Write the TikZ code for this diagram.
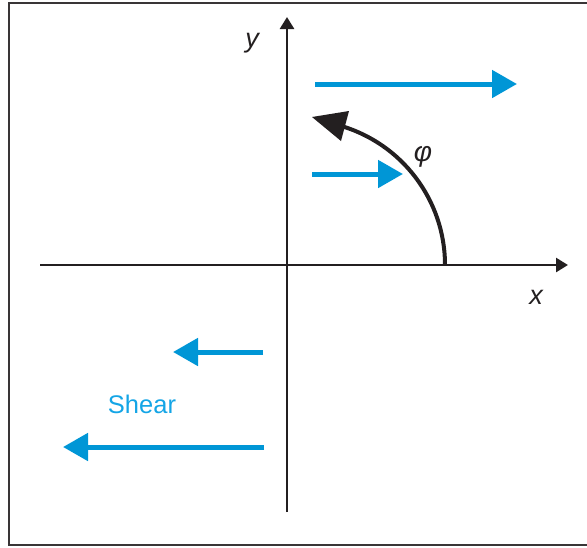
\documentclass[tikz,border=0pt]{standalone}
\usepackage{fontspec}
\setmainfont{Liberation Sans}
\usetikzlibrary{arrows.meta}
\definecolor{shearblue}{RGB}{0,150,214}
\definecolor{sheartext}{RGB}{20,165,230}
\definecolor{axisblack}{RGB}{35,31,32}
\begin{document}
\begin{tikzpicture}[x=1pt,y=-1pt,
  axisline/.style={draw=axisblack,line width=2.6pt,-{Triangle[length=12pt,width=14pt]}},
  bluearrow/.style={draw=shearblue,line width=5pt,-{Triangle[length=25pt,width=27pt]}},
  framel/.style={draw=axisblack!90,line width=1.8pt},
  lbl/.style={inner sep=0pt,font=\fontsize{27}{30}\selectfont\itshape,text=axisblack}]
\useasboundingbox (0,0) rectangle (587,547);
% frame
\draw[framel] (587,3) -- (9,3) -- (9,545) -- (587,545);
% axes
\coordinate (xs) at (40,265);
\coordinate (xe) at (568,265);
\coordinate (ys) at (287,512);
\coordinate (ye) at (287,17);
\draw[axisline] (xs) -- (xe);
\draw[axisline] (ys) -- (ye);
\node[lbl] (xl) at (536,297) {x};
\node[lbl] (yl) at (252,43) {y};
% rotation arc
\coordinate (arcs) at (445,265);
\draw[draw=axisblack,line width=4pt] (arcs) arc[start angle=0,end angle=-74,radius=145];
\fill[axisblack] (312,117) -- (349,111) -- (341,141) -- cycle;
\node[inner sep=0pt,font=\fontsize{28}{30}\selectfont\itshape,text=axisblack] (phi) at (423,157) {φ};
% shear arrows
\coordinate (a1s) at (315,84);  \coordinate (a1e) at (517,84);
\coordinate (a2s) at (312,174); \coordinate (a2e) at (403,174);
\coordinate (a3s) at (263,352); \coordinate (a3e) at (173,352);
\coordinate (a4s) at (264,447); \coordinate (a4e) at (63,447);
\draw[bluearrow] (a1s) -- (a1e);
\draw[bluearrow] (a2s) -- (a2e);
\draw[bluearrow] (a3s) -- (a3e);
\draw[bluearrow] (a4s) -- (a4e);
\node[inner sep=0pt,anchor=base,font=\fontsize{25.5}{30}\selectfont,text=sheartext] (shear) at (142,413) {Shear};
\end{tikzpicture}
\end{document}
